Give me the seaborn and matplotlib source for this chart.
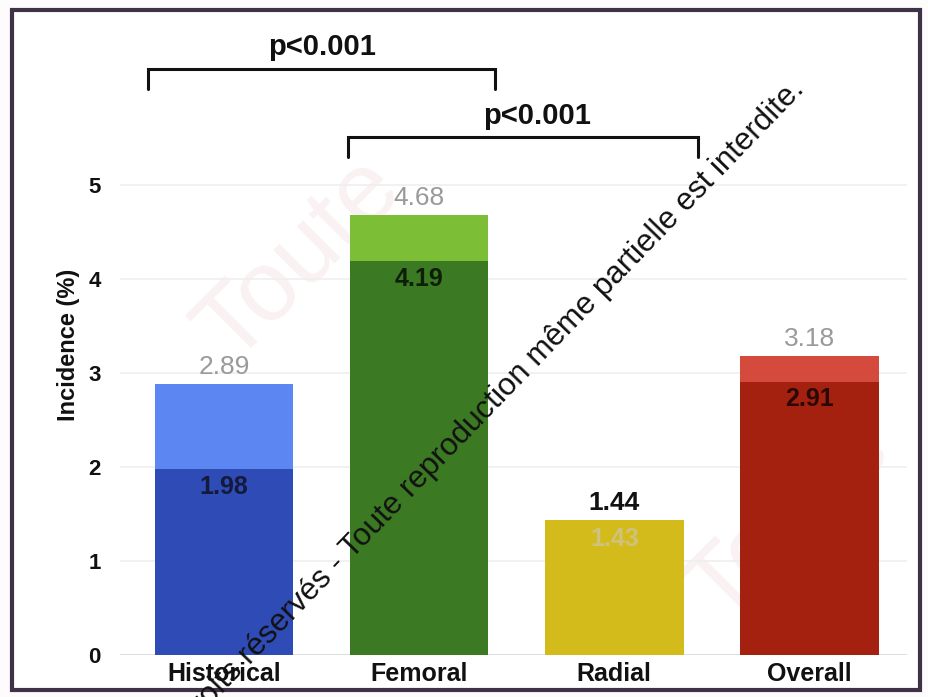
import matplotlib
matplotlib.use("Agg")
import matplotlib.pyplot as plt
import seaborn as sns
import pandas as pd
from matplotlib.patches import Rectangle

# Data
categories = ["Historical", "Femoral", "Radial", "Overall"]
total_values = [2.89, 4.68, 1.44, 3.18]
inner_values = [1.98, 4.19, 1.43, 2.91]
light_colors = ["#5c86f2", "#7cbf36", "#d3bb1c", "#d44a3d"]
dark_colors = ["#2e4bb6", "#3b7a22", "#d3bb1c", "#a4210f"]
total_label_colors = ["#9a9a9a", "#9a9a9a", "#111111", "#9a9a9a"]
total_label_weights = ["normal", "normal", "bold", "normal"]
inner_label_colors = ["#141a3c", "#0d1f08", "#cfc27e", "#2a0804"]
y_ticks = [0, 1, 2, 3, 4, 5]
comparisons = [(-0.39, 1.39, 6.24, 0.0, "p<0.001"), (0.635, 2.43, 5.51, 0.07, "p<0.001")]
notice = "Tous droits réservés - Toute reproduction même partielle est interdite."

sns.set_theme(style="white")
plt.rcParams["font.family"] = ["Liberation Sans", "DejaVu Sans"]

W, H = 929, 697
fig = plt.figure(figsize=(W / 100, H / 100), dpi=100)
fig.patch.set_facecolor("#fdfbfc")

# white panel with dark frame
frame = Rectangle((12 / W, 1 - 690 / H), 908 / W, 680 / H,
                  transform=fig.transFigure, facecolor="white",
                  edgecolor="#3f3247", linewidth=3, zorder=-2)
fig.patches.append(frame)

# faint background lettering
for (px, py) in [(300, 260), (790, 520)]:
    fig.text(px / W, 1 - py / H, "Toute", rotation=45, fontsize=72,
             color="#faf1f3", ha="center", va="center", zorder=-1)

ax = fig.add_axes([120 / W, 1 - 655 / H, (907 - 120) / W, (655 - 35) / H])
ax.patch.set_alpha(0)

df = pd.DataFrame({"cat": categories, "total": total_values, "inner": inner_values})

sns.barplot(data=df, x="cat", y="total", hue="cat", palette=dict(zip(categories, light_colors)),
            width=0.71, legend=False, ax=ax, saturation=1, linewidth=0, zorder=2)
sns.barplot(data=df, x="cat", y="inner", hue="cat", palette=dict(zip(categories, dark_colors)),
            width=0.71, legend=False, ax=ax, saturation=1, linewidth=0, zorder=3)

for i, (t, v) in enumerate(zip(total_values, inner_values)):
    ax.text(i, t + 0.18, f"{t:.2f}", ha="center", va="center", fontsize=19,
            fontweight=total_label_weights[i], color=total_label_colors[i], zorder=5)
    ax.text(i, v - 0.19, f"{v:.2f}", ha="center", va="center", fontsize=18,
            fontweight="bold", color=inner_label_colors[i], zorder=5)

# significance brackets
for x0, x1, y, dx, label in comparisons:
    ax.plot([x0, x0, x1, x1], [y - 0.21, y, y, y - 0.21], color="#111111",
            linewidth=2.2, clip_on=False, zorder=6, solid_joinstyle="miter")
    ax.text((x0 + x1) / 2 + dx, y + 0.23, label,
            ha="center", va="center", fontsize=21, fontweight="bold", color="#111111")

ax.set_xlim(-0.533, 3.50)
ax.set_ylim(0, 6.6)
ax.set_yticks(y_ticks)
ax.set_yticklabels([str(t) for t in y_ticks], fontsize=16, fontweight="bold", color="#111111")
ax.tick_params(axis="x", labelsize=18, colors="#111111", length=0, pad=5)
ax.tick_params(axis="y", length=0, pad=14)
for lab in ax.get_xticklabels():
    lab.set_fontweight("bold")
ax.set_xlabel("")
ax.set_ylabel("Incidence (%)", fontsize=17, fontweight="bold", color="#111111", labelpad=6)
for t in y_ticks:
    ax.axhline(t, color="#d8d8d8" if t == 0 else "#efefef", linewidth=1.2, zorder=1)
sns.despine(ax=ax, left=True, bottom=True)

# diagonal notice
fig.text(805 / W, 1 - 90 / H, notice, rotation=46, rotation_mode="anchor",
         ha="right", va="baseline", fontsize=22.5, color="#111111", zorder=10)

fig.savefig("out.png", dpi=100)
